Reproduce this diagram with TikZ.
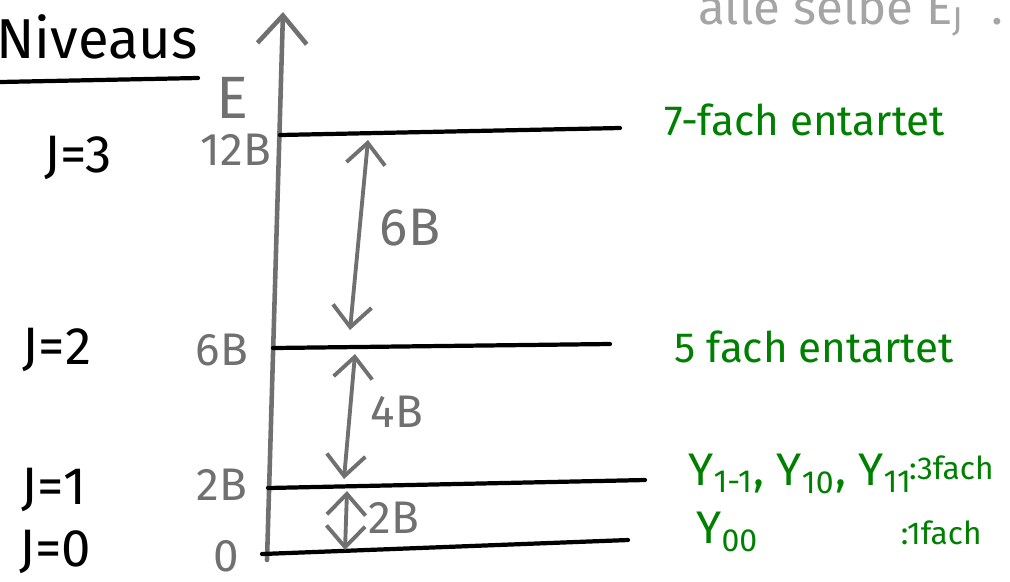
\documentclass[tikz,border=0pt]{standalone}
\usepackage{fontspec}
\setmainfont{Fira Sans}
\usetikzlibrary{arrows.meta}
\definecolor{achse}{RGB}{112,112,112}
\definecolor{hell}{RGB}{165,165,165}
\definecolor{gruen}{RGB}{0,128,0}
\tikzset{
  niveau/.style={line width=1.2pt, line cap=round},
  abstand/.style={achse, line width=1.1pt, line cap=round,
    {Straight Barb[length=6pt,width=11pt]}-{Straight Barb[length=6pt,width=11pt]}},
  jlabel/.style={font=\fontsize{15}{17}\selectfont},
  elabel/.style={text=achse, font=\fontsize{13}{15}\selectfont},
  entart/.style={text=gruen, font=\fontsize{12}{14}\selectfont}
}

\begin{document}
\begin{tikzpicture}[x=0.01cm,y=-0.01cm]
  \useasboundingbox (0,0) rectangle (1010,581);

  % --- Kopf: Niveaus und Hinweis oben rechts ----------------------------
  \node[anchor=base west, font=\fontsize{16}{18}\selectfont] (niveaus) at (-16,58) {Niveaus};
  \coordinate (strichl) at (0,82);
  \coordinate (strichr) at (198,78);
  \draw[niveau] (strichl) -- (strichr);
  \node[anchor=base west, text=hell, font=\fontsize{14}{16}\selectfont] (hinweis) at (686,24)
    {alle selbe E\textsubscript{J} \ .};

  % --- Energieachse -------------------------------------------------------
  \coordinate (fuss) at (267,560);
  \coordinate (spitze) at (283,12);
  \draw[achse, line width=1.3pt, line cap=round,
        -{Straight Barb[length=8pt,width=14pt]}] (fuss) -- (spitze);
  \node[elabel, font=\fontsize{17}{19}\selectfont] (E) at (232,98) {E};

  % --- Niveaus J=3 ... J=0 ------------------------------------------------
  \foreach \n/\xa/\ya/\xb/\yb in {n3/280/135/620/128, n2/273/348/610/344,
                                  n1/268/488/645/480, n0/262/554/628/540} {
    \coordinate (\n l) at (\xa,\ya);
    \coordinate (\n r) at (\xb,\yb);
    \draw[niveau] (\n l) -- (\n r);
  }
  % Beschriftung links: J und Energie
  \foreach \n/\j/\xj/\yj/\e/\xe/\ye in {n3/3/78/158/12B/236/150, n2/2/57/350/6B/222/350,
                                        n1/1/54/490/2B/222/485, n0/0/55/552/0/226/556} {
    \node[jlabel] (j\n) at (\xj,\yj) {J=\j};
    \node[elabel] (e\n) at (\xe,\ye) {\e};
  }

  % --- Abstaende zwischen den Niveaus --------------------------------------
  \coordinate (a3o) at (368,140);  \coordinate (a3u) at (350,330);
  \coordinate (a2o) at (355,354);  \coordinate (a2u) at (344,479);
  \coordinate (a1o) at (347,491);  \coordinate (a1u) at (345,550);
  \draw[abstand] (a3o) -- (a3u);
  \draw[abstand] (a2o) -- (a2u);
  \draw[abstand] (a1o) -- (a1u);
  \node[elabel, font=\fontsize{15}{17}\selectfont] (d6) at (410,228) {6B};
  \node[elabel] (d4) at (397,412) {4B};
  \node[elabel] (d2) at (394,518) {2B};

  % --- Entartung (gruen) ----------------------------------------------------
  \node[entart, anchor=west] (g3) at (652,120) {7-fach entartet};
  \node[entart, anchor=west] (g2) at (662,347) {5 fach entartet};
  \node[entart, anchor=west, font=\fontsize{13}{15}\selectfont] (g1) at (676,474)
    {Y\textsubscript{1-1}, Y\textsubscript{10}, Y\textsubscript{11}};
  \node[entart, anchor=east, font=\fontsize{9}{11}\selectfont] (g1n) at (1006,468) {:3fach};
  \node[entart, anchor=west, font=\fontsize{13}{15}\selectfont] (g0) at (684,532)
    {Y\textsubscript{00}};
  \node[entart, anchor=east, font=\fontsize{9}{11}\selectfont] (g0n) at (994,533) {:1fach};
\end{tikzpicture}
\end{document}
